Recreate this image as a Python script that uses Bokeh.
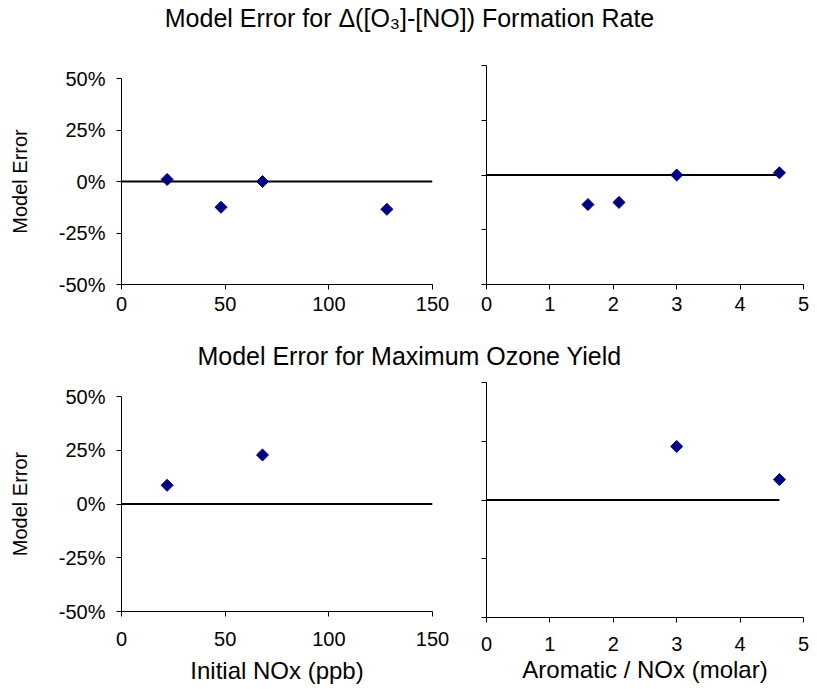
import numpy as np
from bokeh.plotting import figure
from bokeh.layouts import column, row
from bokeh.models import Range1d, FixedTicker, NumeralTickFormatter, CustomJSTickFormatter
from bokeh.core.properties import value
from bokeh.embed import file_html
from bokeh.resources import INLINE

FONT = "Liberation Sans"
NAVY = "#000080"

# ---- data ----
nox_ppb = [22, 48, 68, 128]
aromatic_nox_ratio = [4.62, 2.09, 3.0, 1.6]
rate_model_error = [0.01, -0.125, 0.0, -0.135]

yield_nox_ppb = [22, 68]
yield_aromatic_nox_ratio = [4.62, 3.0]
yield_model_error = [0.087, 0.228]

zero_line_nox = [0, 150]
zero_line_ratio = [0, 4.62]
zero_line_err = [0, 0]

nox_ticks = [0, 50, 100, 150]
ratio_ticks = [0, 1, 2, 3, 4, 5]
error_ticks = [-0.5, -0.25, 0, 0.25, 0.5]

title_rate = "Model Error for \u0394([O\u2083]-[NO]) Formation Rate"
title_yield = "Model Error for Maximum Ozone Yield"
xlabel_nox = "Initial NOx (ppb)"
xlabel_ratio = "Aromatic / NOx (molar)"
ylabel = "Model Error"


def title_fig(h, text, text_y):
    t = figure(width=817, height=h, x_range=Range1d(0, 817), y_range=Range1d(h, 0),
               toolbar_location=None, output_backend="svg", title_location=None,
               x_axis_type=None, y_axis_type=None, min_border=0)
    t.frame_align = False
    t.outline_line_color = None
    t.text(x=[409], y=[text_y], text=[text], text_align="center",
           text_baseline="alphabetic", text_font=value(FONT),
           text_font_size="25px", text_color="black")
    return t


def panel(width, height, bl, br, bt, bb, xmax, xticks, xdata, ydata, zx,
          show_ylab, xlabel, tick_stand, xlab_stand):
    p = figure(width=width, height=height, x_range=Range1d(0, xmax),
               y_range=Range1d(-0.5, 0.5), toolbar_location=None,
               title_location=None,
               output_backend="svg", min_border_left=bl, min_border_right=br,
               min_border_top=bt, min_border_bottom=bb)
    p.frame_align = False
    p.outline_line_color = None
    p.xgrid.visible = False
    p.ygrid.visible = False
    p.background_fill_color = "white"
    p.border_fill_color = "white"
    p.line(zx, zero_line_err, line_color="black", line_width=2)
    p.scatter(xdata, ydata, marker="square", size=8.5, angle=np.pi / 4,
              fill_color=NAVY, line_color=NAVY, line_width=1)
    p.xaxis.ticker = FixedTicker(ticks=xticks)
    p.yaxis.ticker = FixedTicker(ticks=error_ticks)
    p.yaxis.formatter = NumeralTickFormatter(format="0%")
    for ax in p.axis:
        ax.axis_line_color = "black"
        ax.axis_line_width = 1
        ax.major_tick_line_color = "black"
        ax.major_tick_in = 0
        ax.major_tick_out = 5
        ax.minor_tick_line_color = None
        ax.major_label_text_font = FONT
        ax.major_label_text_font_size = "20px"
        ax.major_label_text_color = "black"
        ax.axis_label_text_font = FONT
        ax.axis_label_text_font_style = "normal"
        ax.axis_label_text_color = "black"
    p.xaxis.major_label_standoff = tick_stand
    p.yaxis.major_label_standoff = 11
    if show_ylab:
        p.yaxis.axis_label = ylabel
        p.yaxis.axis_label_text_font_size = "20px"
        p.yaxis.axis_label_standoff = 25
    else:
        p.yaxis.formatter = CustomJSTickFormatter(code="return '';")
    if xlabel:
        p.xaxis.axis_label = xlabel
        p.xaxis.axis_label_text_font_size = "24px"
        p.xaxis.axis_label_standoff = xlab_stand
    return p


t1 = title_fig(45, title_rate, 17)
p1 = panel(460, 285, 121, 28, 33, 46, 150, nox_ticks, nox_ppb, rate_model_error,
           zero_line_nox, True, None, 7, 0)
p2 = panel(357, 285, 26, 14, 20, 46, 5, ratio_ticks, aromatic_nox_ratio,
           rate_model_error, zero_line_ratio, False, None, 7, 0)
t2 = title_fig(40, title_yield, 25)
p3 = panel(460, 319, 121, 28, 26, 78, 150, nox_ticks, yield_nox_ppb,
           yield_model_error, zero_line_nox, True, xlabel_nox, 15, 8)
p4 = panel(357, 319, 26, 14, 12, 72, 5, ratio_ticks, yield_aromatic_nox_ratio,
           yield_model_error, zero_line_ratio, False, xlabel_ratio, 14, 2)

layout = column(t1, row(p1, p2), t2, row(p3, p4))

open("out.html", "w").write(file_html(layout, INLINE))
